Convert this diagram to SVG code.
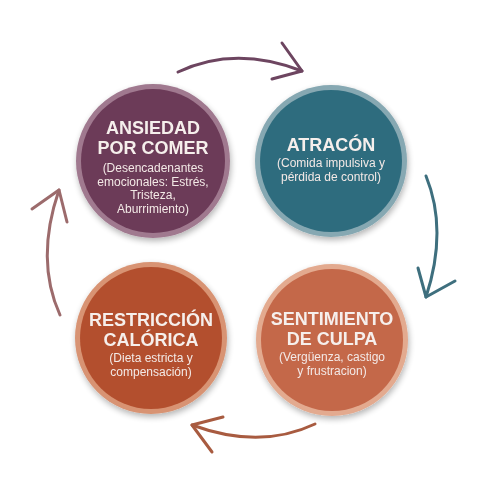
<svg xmlns="http://www.w3.org/2000/svg" width="487" height="487" viewBox="0 0 487 487">
  <defs>
    <filter id="shadow" x="-20%" y="-20%" width="140%" height="140%">
      <feGaussianBlur in="SourceAlpha" stdDeviation="3"/>
      <feOffset dx="1" dy="3" result="b"/>
      <feComponentTransfer><feFuncA type="linear" slope="0.3"/></feComponentTransfer>
      <feMerge><feMergeNode/><feMergeNode in="SourceGraphic"/></feMerge>
    </filter>
  </defs>
  <style>
    .title { font-family: "Liberation Sans", Arial, sans-serif; font-weight: 700; font-size: 18px; fill: #f6efec; text-anchor: middle; }
    .sub { font-family: "Liberation Sans", Arial, sans-serif; font-size: 12px; fill: #f3e9e6; text-anchor: middle; }
    .arc { fill: none; stroke-width: 3; stroke-linecap: round; stroke-linejoin: round; }
  </style>
  <rect width="487" height="487" fill="#ffffff"/>

  <g id="connectors">
    <g stroke="#6d4560" class="arc">
      <path d="M178,72 Q235,45 302,71"/>
      <path d="M282,43 L302,71 L272,79"/>
    </g>
    <g stroke="#3e6f7e" class="arc">
      <path d="M426,176 Q448,230 426,297"/>
      <path d="M418,268 L426,297 L455,281"/>
    </g>
    <g stroke="#a85b40" class="arc">
      <path d="M315,424 Q260,450 192,425"/>
      <path d="M223,417 L192,425 L212,452"/>
    </g>
    <g stroke="#9c6b6c" class="arc">
      <path d="M60,315 Q35,260 59,190"/>
      <path d="M32,209 L59,190 L67,222"/>
    </g>
  </g>

  <g id="ansiedad" filter="url(#shadow)">
    <circle cx="153" cy="161" r="77" fill="#a0798f"/>
    <circle cx="153" cy="161" r="72" fill="#6c3b58"/>
    <text class="title" x="153" y="134">ANSIEDAD</text>
    <text class="title" x="153" y="154">POR COMER</text>
    <text class="sub" x="153" y="172">(Desencadenantes</text>
    <text class="sub" x="153" y="185.5">emocionales: Estrés,</text>
    <text class="sub" x="153" y="199">Tristeza,</text>
    <text class="sub" x="153" y="212.5">Aburrimiento)</text>
  </g>

  <g id="atracon" filter="url(#shadow)">
    <circle cx="331" cy="161" r="76" fill="#86a8b2"/>
    <circle cx="331" cy="161" r="71" fill="#2f6c7e"/>
    <text class="title" x="331" y="151">ATRACÓN</text>
    <text class="sub" x="331" y="167">(Comida impulsiva y</text>
    <text class="sub" x="331" y="180.5">pérdida de control)</text>
  </g>

  <g id="restriccion" filter="url(#shadow)">
    <circle cx="151" cy="338" r="76" fill="#d89373"/>
    <circle cx="151" cy="338" r="71" fill="#b3502f"/>
    <text class="title" x="151" y="326">RESTRICCIÓN</text>
    <text class="title" x="151" y="346">CALÓRICA</text>
    <text class="sub" x="151" y="362">(Dieta estricta y</text>
    <text class="sub" x="151" y="375.5">compensación)</text>
  </g>

  <g id="culpa" filter="url(#shadow)">
    <circle cx="332" cy="340" r="76" fill="#e3aa8f"/>
    <circle cx="332" cy="340" r="71" fill="#c4684a"/>
    <text class="title" x="332" y="325">SENTIMIENTO</text>
    <text class="title" x="332" y="345">DE CULPA</text>
    <text class="sub" x="332" y="361">(Vergüenza, castigo</text>
    <text class="sub" x="332" y="374.5">y frustracion)</text>
  </g>
</svg>
